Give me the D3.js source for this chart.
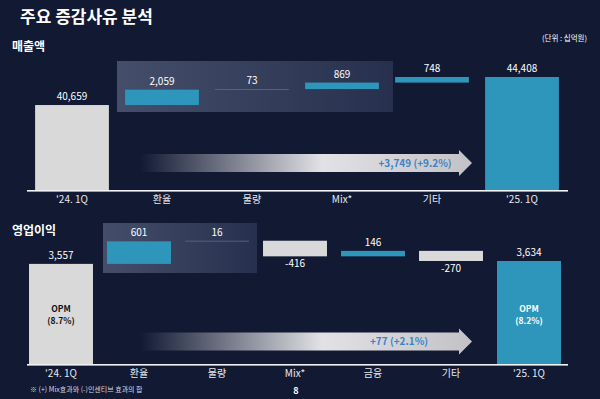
<!DOCTYPE html>
<html>
<head>
<meta charset="utf-8">
<script src="https://cdn.jsdelivr.net/npm/d3@7"></script>
<style>
  body { margin: 0; background: #111933; }
  svg { display: block; font-family: "Noto Sans CJK KR", "Noto Sans", sans-serif; }
</style>
</head>
<body>
<div id="chart"></div>
<script>
// Sales waterfall (십억원)
const salesCategories = ["'24. 1Q", '환율', '물량', 'Mix*', '기타', "'25. 1Q"];
const salesValues = [40659, 2059, 73, 869, 748, 44408];
const salesLabels = ['40,659', '2,059', '73', '869', '748', '44,408'];

// Operating profit waterfall
const opCategories = ["'24. 1Q", '환율', '물량', 'Mix*', '금융', '기타', "'25. 1Q"];
const opValues = [3557, 601, 16, -416, 146, -270, 3634];
const opLabels = ['3,557', '601', '16', '-416', '146', '-270', '3,634'];
const opmLabels = ['(8.7%)', '(8.2%)'];

const W = 600, H = 399;
const blue = '#2e96ba', grey = '#d9d9d9';

const svg = d3.select('#chart').append('svg')
  .attr('width', W).attr('height', H);

svg.append('rect').attr('width', W).attr('height', H).attr('fill', '#111933');

const defs = svg.append('defs');
const arrowGrad = defs.append('linearGradient').attr('id', 'arrowGrad');
arrowGrad.append('stop').attr('offset', '0%').attr('stop-color', '#111933');
arrowGrad.append('stop').attr('offset', '55%').attr('stop-color', '#e2e2e6');
arrowGrad.append('stop').attr('offset', '100%').attr('stop-color', '#c2c2c6');
const boxGrad = defs.append('linearGradient').attr('id', 'boxGrad');
boxGrad.append('stop').attr('offset', '0%').attr('stop-color', '#4a5470');
boxGrad.append('stop').attr('offset', '100%').attr('stop-color', '#293250');

// title + headings
svg.append('text').attr('x', 20).attr('y', 23)
  .attr('fill', '#fff').attr('font-size', 17).attr('font-weight', 'bold')
  .text('주요 증감사유 분석');
svg.append('text').attr('x', 12).attr('y', 51)
  .attr('fill', '#fff').attr('font-size', 12).attr('font-weight', 'bold')
  .text('매출액');
svg.append('text').attr('x', 587).attr('y', 41).attr('text-anchor', 'end')
  .attr('fill', '#fff').attr('font-size', 7.5)
  .text('(단위 : 십억원)');
svg.append('text').attr('x', 12).attr('y', 235)
  .attr('fill', '#fff').attr('font-size', 12).attr('font-weight', 'bold')
  .text('영업이익');

// build waterfall rows: start, end for each category
function waterfall(values) {
  let run = 0;
  return values.map((v, i) => {
    if (i === 0 || i === values.length - 1) { run = v; return {lo: 0, hi: v, total: true, v: v}; }
    const a = run; run += v;
    return {lo: Math.min(a, run), hi: Math.max(a, run), total: false, v: v};
  });
}

function drawPanel(cfg) {
  const g = svg.append('g');
  const x = d3.scaleBand().domain(cfg.categories).range(cfg.xRange).paddingInner(cfg.pad).paddingOuter(cfg.pad / 2);
  const y = d3.scaleLinear().domain(cfg.yDomain).range([cfg.base, cfg.top]);
  const rows = waterfall(cfg.values);

  // highlight box
  g.append('rect')
    .attr('x', cfg.box[0]).attr('y', cfg.box[1])
    .attr('width', cfg.box[2]).attr('height', cfg.box[3])
    .attr('fill', 'url(#boxGrad)').attr('opacity', 0.9);

  // arrow
  const ay0 = cfg.arrowY - 9, ay1 = cfg.arrowY + 9;
  const tip = cfg.arrowX[1], hs = tip - 13;
  g.append('path')
    .attr('d', `M${cfg.arrowX[0]},${ay0}L${hs},${ay0}L${hs},${ay0 - 4}L${tip},${cfg.arrowY}L${hs},${ay1 + 4}L${hs},${ay1}L${cfg.arrowX[0]},${ay1}Z`)
    .attr('fill', 'url(#arrowGrad)');
  g.append('text').attr('x', cfg.arrowTextX).attr('y', cfg.arrowY + 3.5)
    .attr('text-anchor', 'middle').attr('fill', '#3a84c6')
    .attr('font-size', 10).attr('font-weight', 'bold')
    .text(cfg.arrowText);

  // bars
  g.selectAll('.bar').data(rows).enter().append('rect')
    .attr('class', 'bar')
    .attr('x', (d, i) => x(cfg.categories[i]))
    .attr('width', x.bandwidth())
    .attr('y', d => y(d.hi))
    .attr('height', d => d.total ? cfg.base - y(d.hi) : Math.max(0.8, y(d.lo) - y(d.hi)))
    .attr('fill', (d, i) => i === 0 ? grey : (d.v < 0 ? grey : (Math.abs(d.v) < 100 ? '#5a6c8a' : blue)));

  // value labels
  g.selectAll('.val').data(rows).enter().append('text')
    .attr('class', 'val')
    .attr('x', (d, i) => x(cfg.categories[i]) + x.bandwidth() / 2)
    .attr('y', d => d.v < 0 ? y(d.lo) + 11 : y(d.hi) - 5)
    .attr('text-anchor', 'middle').attr('fill', '#fff').attr('font-size', 10)
    .text((d, i) => cfg.labels[i]);

  // baseline
  g.append('rect')
    .attr('x', 27).attr('width', 541).attr('y', cfg.base).attr('height', 1.6)
    .attr('fill', '#f2f2f6');

  // category axis
  const axis = g.append('g')
    .attr('transform', `translate(0,${cfg.base})`)
    .call(d3.axisBottom(x).tickSize(0).tickPadding(6));
  axis.select('.domain').remove();
  axis.selectAll('text').attr('fill', '#e8e8ee').attr('font-size', 10)
    .attr('font-family', '"Noto Sans CJK KR", "Noto Sans", sans-serif');

  return {x: x, y: y};
}

drawPanel({
  categories: salesCategories, values: salesValues, labels: salesLabels,
  xRange: [27, 567], pad: 0.18, base: 190, top: 77, yDomain: [29300, 44408],
  box: [117, 61, 276, 51],
  arrowX: [140, 472], arrowY: 163, arrowTextX: 415, arrowText: '+3,749 (+9.2%)'
});

const op = drawPanel({
  categories: opCategories, values: opValues, labels: opLabels,
  xRange: [22, 568], pad: 0.18, base: 364, top: 261, yDomain: [890, 3634],
  box: [103, 223, 154, 50],
  arrowX: [140, 472], arrowY: 341.5, arrowTextX: 399, arrowText: '+77 (+2.1%)'
});

// OPM labels inside the total bars
[[opCategories[0], opmLabels[0], '#111'], [opCategories[6], opmLabels[1], '#fff']].forEach(([c, t, col]) => {
  const cx = op.x(c) + op.x.bandwidth() / 2;
  const tg = svg.append('text').attr('text-anchor', 'middle').attr('fill', col)
    .attr('font-size', 8.5).attr('font-weight', 'bold');
  tg.append('tspan').attr('x', cx).attr('y', 312).text('OPM');
  tg.append('tspan').attr('x', cx).attr('y', 324).text(t);
});

// footnote + page number
svg.append('text').attr('x', 30).attr('y', 392)
  .attr('fill', '#d8d8e0').attr('font-size', 7)
  .text('※ (+) Mix효과와 (-)인센티브 효과의 합');
svg.append('text').attr('x', 296).attr('y', 394).attr('text-anchor', 'middle')
  .attr('fill', '#fff').attr('font-size', 9).attr('font-weight', 'bold')
  .text('8');
</script>
</body>
</html>
